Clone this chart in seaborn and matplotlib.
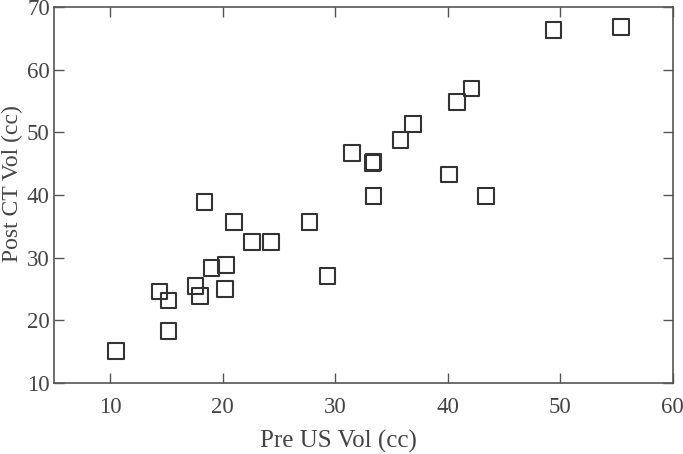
import seaborn as sns
from matplotlib import pyplot as plt
import pandas as pd

# Pre US volume vs post CT volume (cc)
pre_us = [10.5, 14.4, 15.2, 15.2, 17.6, 18.0, 18.4, 19.0, 20.3, 20.2, 21.0,
          22.6, 24.3, 27.7, 29.3, 31.5, 33.3, 33.4, 33.4, 35.8, 36.9, 40.1,
          40.8, 42.1, 43.4, 49.4, 55.4]
post_ct = [15.1, 24.6, 23.2, 18.3, 25.5, 23.9, 38.9, 28.4, 28.8, 25.0, 35.7,
           32.5, 32.5, 35.7, 27.1, 46.7, 45.1, 45.3, 39.8, 48.8, 51.3, 43.3,
           54.8, 57.0, 39.8, 66.3, 66.8]

df = pd.DataFrame({"pre": pre_us, "post": post_ct})

sns.set_style("white")
plt.rcParams['font.family'] = ['Liberation Serif', 'DejaVu Serif']

fig = plt.figure(figsize=(6.83, 4.54), dpi=100)
ax = fig.add_axes([0.079, 0.156, 0.906, 0.829])

sns.scatterplot(data=df, x="pre", y="post", marker="s", s=125,
                facecolor="none", edgecolor="#333333", linewidth=1.5, ax=ax)

ax.set_xlim(5, 60)
ax.set_ylim(10, 70)
ax.set_xticks([10, 20, 30, 40, 50, 60])
ax.set_yticks([10, 20, 30, 40, 50, 60, 70])
ax.set_xlabel("Pre US Vol (cc)", fontsize=18, color="#444444")
ax.set_ylabel("Post CT Vol (cc)", fontsize=17, color="#444444")
ax.xaxis.set_label_coords(0.46, -0.125)
ax.yaxis.set_label_coords(-0.05, 0.53)
ax.tick_params(direction="in", length=7, width=1, colors="#555555",
               labelsize=16.5, labelcolor="#444444", top=True, right=True,
               bottom=True, left=True)
ax.tick_params(axis="x", pad=10)
ax.tick_params(axis="y", pad=3)
for sp in ax.spines.values():
    sp.set_color("#555555")
    sp.set_linewidth(1.2)

fig.savefig("out.png", dpi=100)
